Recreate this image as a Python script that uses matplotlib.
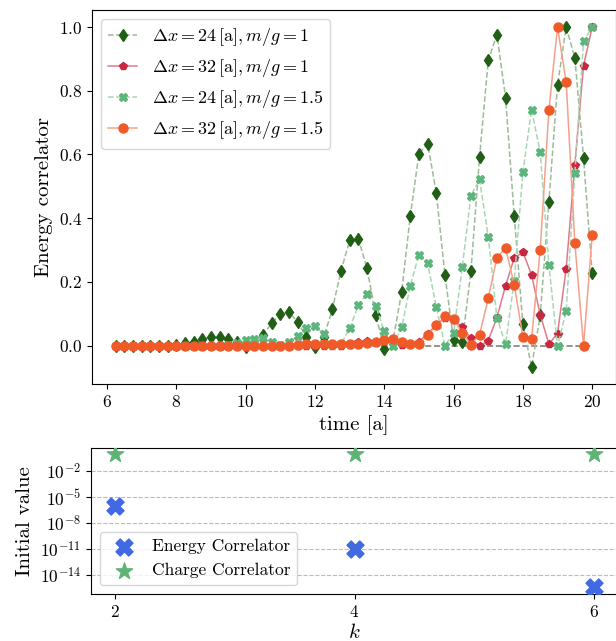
import numpy as np
import matplotlib
matplotlib.use('Agg')
import matplotlib.pyplot as plt

plt.rcParams['font.family'] = 'serif'
plt.rcParams['font.serif'] = ['cmr10']
plt.rcParams['mathtext.fontset'] = 'cm'
plt.rcParams['axes.formatter.use_mathtext'] = True

# time grid, step 0.25 [a]
t = np.arange(6.25, 20.001, 0.25)

# dx = 24, m/g = 1
e24_1 = [0, 0, 0, 0, 0, 0, 0, 0.003, 0.007, 0.013, 0.022, 0.026, 0.026, 0.020,
         0.012, -0.005, 0.005, 0.034, 0.070, 0.100, 0.105, 0.074, 0.027, -0.005,
         0.026, 0.114, 0.235, 0.330, 0.336, 0.243, 0.097, -0.010, 0.015, 0.168,
         0.407, 0.603, 0.634, 0.480, 0.222, 0.017, 0.010, 0.234, 0.593, 0.895,
         0.976, 0.778, 0.407, 0.067, -0.067, 0.095, 0.451, 0.818, 1.0, 0.903,
         0.589, 0.227]
# dx = 32, m/g = 1
e32_1 = [0]*27 + [0.003, 0.010, 0.014, 0.012, 0.015, 0.015, 0.003, 0.004, 0.013,
         0.038, 0.065, 0.088, 0.080, 0.059, 0.023, -0.001, 0.016, 0.088, 0.188,
         0.275, 0.294, 0.222, 0.097, 0.005, 0.038, 0.242, 0.568, 0.878, 1.0]
# dx = 24, m/g = 1.5
e24_15 = [0]*13 + [0.003, 0.008, 0.017, 0.022, 0.023, 0.013, 0.002, 0.011, 0.031,
          0.055, 0.061, 0.038, 0.002, 0.005, 0.054, 0.127, 0.163, 0.126, 0.045,
          0.0, 0.057, 0.188, 0.286, 0.259, 0.122, 0.0, 0.040, 0.246, 0.471, 0.522,
          0.342, 0.088, 0.004, 0.204, 0.545, 0.741, 0.607, 0.253, -0.002, 0.109,
          0.541, 0.955, 1.0]
# dx = 32, m/g = 1.5
e32_15 = [0]*21 + [0.002, 0.005, 0.004, 0.005, 0.005, 0.005, 0.004, 0.005, 0.009,
          0.012, 0.019, 0.021, 0.013, 0.004, 0.004, 0.033, 0.064, 0.092, 0.084,
          0.040, 0.003, 0.034, 0.149, 0.276, 0.307, 0.191, 0.028, 0.022, 0.300,
          0.739, 1.0, 0.826, 0.322, -0.001, 0.347]

k = [2, 4, 6]
energy_init = [9e-7, 1e-11, 3.8e-16]
charge_init = [0.75, 0.75, 0.75]

fig = plt.figure(figsize=(6.16, 6.41), dpi=100)
ax = fig.add_axes([92/616, 1-384/641, 524/616, 374/641])
ax2 = fig.add_axes([91/616, 1-594/641, 527/616, 146.3/641])

ax.hlines(0, t[0], t[-1], colors='gray', linestyles='--', lw=1.2, zorder=1)
ax.plot(t, e24_1, '--', color='#9dbb98', marker='d', mfc='#215f17', mec='#215f17',
        ms=6, lw=1.1, label=r'$\Delta x = 24\,[\mathrm{a}], m/g = 1$')
ax.plot(t, e32_1, '-', color='#e07a8a', marker='p', mfc='#c72840', mec='#c72840',
        ms=6, lw=1.1, label=r'$\Delta x = 32\,[\mathrm{a}], m/g = 1$')
ax.plot(t, e24_15, '--', color='#a9d6b5', marker='X', mfc='#5cb67c', mec='#5cb67c',
        ms=6, lw=1.1, label=r'$\Delta x = 24\,[\mathrm{a}], m/g = 1.5$')
ax.plot(t, e32_15, '-', color='#f6a08a', marker='o', mfc='#f05a28', mec='#f05a28',
        ms=6.5, lw=1.1, label=r'$\Delta x = 32\,[\mathrm{a}], m/g = 1.5$')
ax.set_xticks([6, 8, 10, 12, 14, 16, 18, 20])
ax.set_yticks([0.0, 0.2, 0.4, 0.6, 0.8, 1.0])
ax.tick_params(labelsize=12.5)
ax.set_xlabel('time [a]', fontsize=15)
ax.set_ylabel('Energy correlator', fontsize=15)
ax.legend(loc='upper left', fontsize=13, handlelength=1.6)

ax2.scatter(k, energy_init, marker='X', s=150, color='#4169e1', label='Energy Correlator', zorder=3)
ax2.scatter(k, charge_init, marker='*', s=150, color='#5db473', label='Charge Correlator', zorder=3)
ax2.set_yscale('log')
ax2.set_yticks([1e-2, 1e-5, 1e-8, 1e-11, 1e-14])
ax2.minorticks_off()
ax2.set_xticks(k)
ax2.grid(axis='y', ls='--', color='#bbbbbb')
ax2.tick_params(labelsize=12.5)
ax2.set_xlabel('$k$', fontsize=15, labelpad=2)
ax2.set_ylabel('Initial value', fontsize=15)
ax2.legend(loc='lower left', fontsize=12.5, handletextpad=0.6)

fig.savefig('out.png', dpi=100)
